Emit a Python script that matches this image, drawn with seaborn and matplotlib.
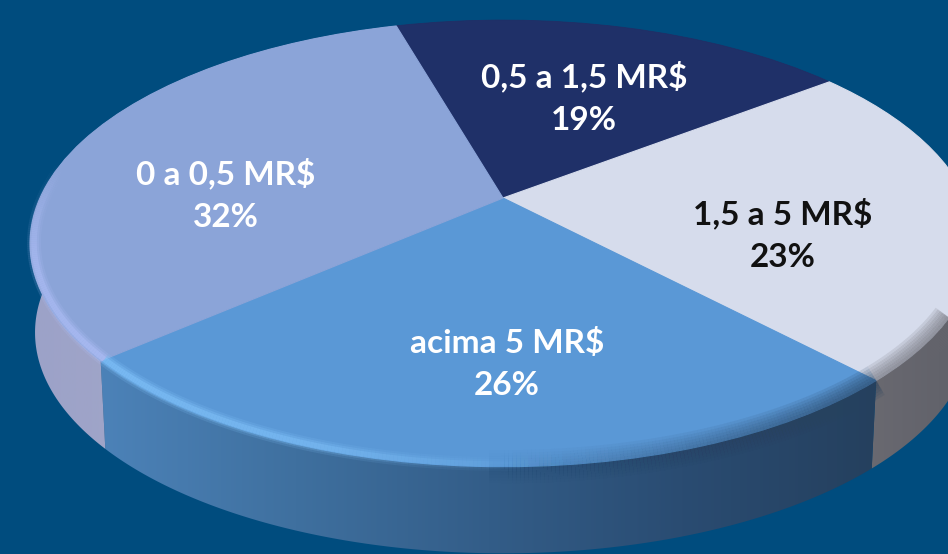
'''
3D looking pie chart of investor ranges, built on ax.pie with a tilt transform
'''

import numpy as np
import seaborn as sns
from matplotlib import pyplot as plt
from matplotlib import transforms as mtransforms
from matplotlib.collections import LineCollection
from matplotlib.patches import PathPatch
from matplotlib.path import Path

# data
categories = ['0,5 a 1,5 MR$', '1,5 a 5 MR$', 'acima 5 MR$', '0 a 0,5 MR$']
shares = [19, 23.4, 25.6, 32]  # unrounded estimates
share_labels = ['19%', '23%', '26%', '32%']

# style
bg_color = '#004c7e'
top_colors = ['#1f3068', '#d6dcec', '#5a98d6', '#8ba4d8']
text_colors = ['white', '#111111', 'white', 'white']
side_colors = [
    ['#1a2850', '#1a2850'],
    ['#6e6e74', '#66666e', '#5e6068'],
    ['#4c82b8', '#3f709f', '#335d88', '#2a4c72', '#25405e'],
    ['#9ca2c8', '#a4a8c8', '#a8aac8'],
]
highlight_colors = ['#2a3c80', '#e8ecf8', '#86c8ff', '#b4c2fc']
rim_dark_colors = ['#1a2850', '#6a6a72', '#27425f', '#8a90b8']
label_xy = [(584, 98), (783, 235), (507, 364), (226, 195)]

# tilt of the top face, pixels of the 948x554 picture
apex_x, apex_y = 503, 198
scale_x, scale_y = 463, 214
tilt_k = 0.2036
side_height = 90
bottom_radius = 0.99


class TiltTransform(mtransforms.Transform):
    input_dims = 2
    output_dims = 2
    has_inverse = False

    def __init__(self, shift=0):
        super().__init__()
        self.shift = shift

    def transform_non_affine(self, values):
        values = np.asarray(values, dtype=float)
        w = 1 + tilt_k * values[:, 1]
        x = apex_x + scale_x * values[:, 0] / w
        y = apex_y - scale_y * values[:, 1] / w + self.shift
        return np.column_stack((x, y))


def circle_points(theta1, theta2, radius=1.0, n=160):
    t = np.radians(np.linspace(theta1, theta2, n))
    return radius * np.column_stack((np.cos(t), np.sin(t)))


def draw_side(ax, wedge, colors):
    top = TiltTransform().transform_non_affine(circle_points(wedge.theta1, wedge.theta2))
    bottom = TiltTransform(side_height).transform_non_affine(
        circle_points(wedge.theta1, wedge.theta2, bottom_radius))
    outline = Path(np.vstack((top, bottom[::-1], top[:1])), closed=True)
    clip = PathPatch(outline, transform=ax.transData, facecolor='none', edgecolor='none')
    ax.add_patch(clip)
    gradient = np.array([sns.blend_palette(colors, 256)])
    image = ax.imshow(gradient, extent=(top[:, 0].min(), top[:, 0].max(), 554, 0),
                      aspect='auto', zorder=1, interpolation='bilinear')
    image.set_clip_path(clip)


def draw_rim(ax, wedge, light, dark):
    # soft bevel along the rim: light on the left, dark on the right
    theta = np.linspace(wedge.theta1, wedge.theta2, 240)
    theta_wrapped = np.mod(theta, 360)
    glow = np.interp(theta_wrapped, [170, 195, 225, 250, 275, 360],
                     [0, 0.8, 1, 0.8, 0, 0])
    shade = np.interp(theta_wrapped, [0, 268, 310, 335, 352, 360],
                      [0, 0, 1, 1, 0, 0])
    layers = [(1.0, w, 0.14, dark, shade) for w in (24, 20, 16, 12, 8, 4)]
    layers += [(0.992, 10, 0.18, light, glow), (0.992, 7, 0.28, light, glow),
               (0.992, 4, 0.45, light, glow)]
    for radius, width, alpha, color, weight in layers:
        pts = TiltTransform().transform_non_affine(circle_points(wedge.theta1, wedge.theta2, radius, 240))
        segments = np.stack((pts[:-1], pts[1:]), axis=1)
        rgba = np.zeros((len(segments), 4))
        rgba[:, :3] = sns.color_palette([color])[0]
        rgba[:, 3] = alpha * weight[:-1]
        ax.add_collection(LineCollection(segments, colors=rgba, linewidths=width,
                                         capstyle='butt', zorder=4))


def main():
    sns.set_theme(style='white')
    plt.rcParams['font.family'] = ['Lato', 'DejaVu Sans']

    fig = plt.figure(figsize=(9.48, 5.54), dpi=100, facecolor=bg_color)
    ax = fig.add_axes([0, 0, 1, 1], facecolor=bg_color)

    wedges, _ = ax.pie(shares, colors=sns.color_palette(top_colors), startangle=106,
                       counterclock=False, radius=1,
                       wedgeprops={'linewidth': 0.8, 'zorder': 3})
    tilt = TiltTransform()
    for wedge, color in zip(wedges, top_colors):
        wedge.set_transform(tilt + ax.transData)
        wedge.set_edgecolor(color)

    for wedge, colors in zip(wedges, side_colors):
        draw_side(ax, wedge, colors)

    for wedge, light, dark in zip(wedges, highlight_colors, rim_dark_colors):
        draw_rim(ax, wedge, light, dark)

    for name, share, (x, y), color in zip(categories, share_labels, label_xy, text_colors):
        ax.text(x, y, f'{name}\n{share}', color=color, fontsize=24, fontweight='bold',
                ha='center', va='center', linespacing=1.55, zorder=5)

    ax.set_aspect('auto')
    ax.set_xlim(0, 948)
    ax.set_ylim(554, 0)
    ax.axis('off')

    fig.savefig('out.png', dpi=100, facecolor=bg_color)
    plt.close(fig)


if __name__ == "__main__":
    main()
